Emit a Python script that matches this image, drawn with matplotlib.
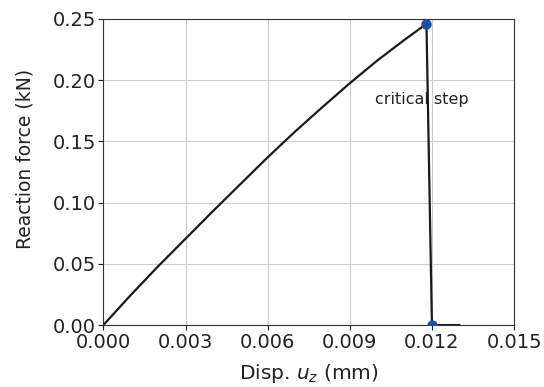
import matplotlib
matplotlib.use("Agg")
import matplotlib.pyplot as plt

# load-displacement curve
disp = [0.0, 0.001, 0.002, 0.003, 0.004, 0.005, 0.006, 0.007, 0.008, 0.009,
        0.010, 0.011, 0.0118, 0.0120, 0.0125, 0.0130]
force = [0.0, 0.0245, 0.048, 0.0705, 0.093, 0.115, 0.137, 0.158, 0.178, 0.1975,
         0.216, 0.233, 0.246, 0.0, 0.0, 0.0]
# marked points
mark_x = [0.0118, 0.0120]
mark_y = [0.246, 0.0]

fig, ax = plt.subplots(figsize=(5.44, 3.87), dpi=100)
ax.plot(disp, force, color='#1a1a1a', lw=1.6, zorder=3)
ax.plot(mark_x, mark_y, 'o', color='#1f4ea3', ms=6.5, zorder=4)
ax.text(0.01162, 0.184, 'critical step', fontsize=11.5, color='#222222',
        ha='center', va='center', zorder=2)

ax.set_xlim(0, 0.015)
ax.set_ylim(0, 0.25)
ax.set_xticks([0.0, 0.003, 0.006, 0.009, 0.012, 0.015])
ax.set_xticklabels(['0.000', '0.003', '0.006', '0.009', '0.012', '0.015'])
ax.set_yticks([0.0, 0.05, 0.10, 0.15, 0.20, 0.25])
ax.set_yticklabels(['0.00', '0.05', '0.10', '0.15', '0.20', '0.25'])
ax.tick_params(labelsize=14, colors='#222222', pad=2)
ax.grid(True, color='#cccccc', lw=0.8)
ax.set_axisbelow(True)
ax.set_xlabel('Disp. $u_z$ (mm)', fontsize=14.5, color='#222222')
ax.set_ylabel('Reaction force (kN)', fontsize=13.5, color='#222222')
ax.xaxis.set_label_coords(0.5, -0.122)
ax.yaxis.set_label_coords(-0.168, 0.544)
for s in ax.spines.values():
    s.set_color('#333333')

fig.subplots_adjust(left=0.19, right=0.945, top=0.951, bottom=0.16)
fig.savefig('out.png', dpi=100)
